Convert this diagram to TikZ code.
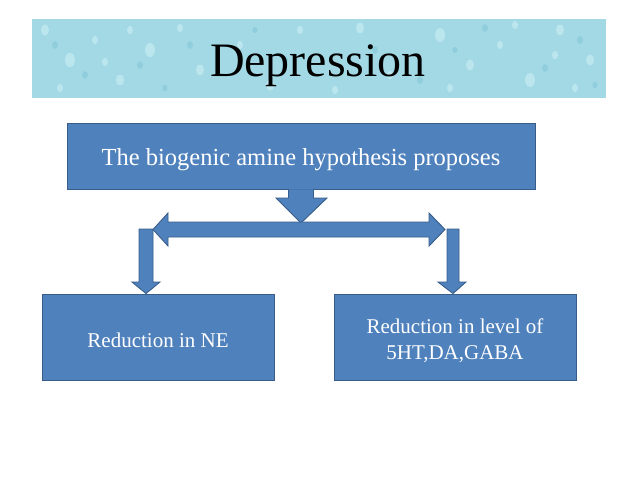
\documentclass[tikz,border=0pt]{standalone}
\usepackage{fontspec}
\setmainfont{Liberation Serif}
\definecolor{boxblue}{HTML}{4F81BD}
\definecolor{boxedge}{HTML}{385D8A}
\definecolor{banner}{HTML}{A2D9E5}
\definecolor{drop}{HTML}{C8ECF3}
\definecolor{dropdark}{HTML}{86C8D8}
\begin{document}
\begin{tikzpicture}[x=1pt,y=-1pt,
  bluebox/.style={draw=boxedge, fill=boxblue, line width=0.9pt, inner sep=0pt},
  boxtext/.style={text=white, align=center, inner sep=0pt},
  blockarrow/.style={draw=boxedge, fill=boxblue, line width=0.9pt, line join=miter}]
\useasboundingbox (0,0) rectangle (638,479);
\fill[white] (0,0) rectangle (638,479);
% banner
\fill[banner] (32,19) rectangle (606,98);
\foreach \x/\y/\r in {45/30/4,70/60/5,95/40/3,120/80/4,150/50/5,180/28/3,200/70/4,240/45/3,270/85/4,300/30/3,335/90/3,360/28/4,390/75/3,440/35/5,470/65/4,500/45/3,530/80/5,560/30/4,590/60/4,60/88/3,130/30/3,450/88/3,515/25/3,575/88/3,105/62/3,555/55/3}
  \fill[drop, opacity=0.7] (\x,\y) ellipse ({\r} and {1.4*\r});
\foreach \x/\y/\r in {55/45/3,85/75/3,140/65/3,165/88/2.5,190/45/3,255/30/2.5,285/60/3,375/50/3,420/80/3,455/50/2.5,485/28/3,545/68/3,580/40/3,595/85/2.5}
  \fill[dropdark, opacity=0.6] (\x,\y) ellipse ({\r} and {1.3*\r});
\node[font=\fontsize{48}{56}\selectfont, text=black, inner sep=0pt] (title) at (318,66) {Depression};
% boxes
\node[bluebox, minimum width=468pt, minimum height=66pt] (top) at (301,156) {};
\node[boxtext, font=\fontsize{24.5}{29}\selectfont] (toptext) at ([yshift=-3.5pt]top.center) {The biogenic amine hypothesis proposes};
\node[bluebox, minimum width=232pt, minimum height=86pt] (left) at (158,337) {};
\node[boxtext, font=\fontsize{21}{26}\selectfont] (lefttext) at ([yshift=-3pt]left.center) {Reduction in NE};
\node[bluebox, minimum width=242pt, minimum height=86pt] (right) at (455,337) {};
\node[boxtext, font=\fontsize{21}{26}\selectfont] (righttext) at ([yshift=-4pt]right.center) {Reduction in level of\\5HT,DA,GABA};
% down arrow from top box
\coordinate (split) at (301,223);
\draw[blockarrow] ([xshift=-12.5pt]top.south) -- ([xshift=-12.5pt]top.south |- 0,198) -- (276,198) -- (split) -- (327,198) -- ([xshift=12.5pt]top.south |- 0,198) -- ([xshift=12.5pt]top.south) ;
% vertical arrows to lower boxes
\draw[blockarrow] (139,229) -- (139,282) -- (132,282) -- (left.north -| 146,0) -- (160,282) -- (153,282) -- (153,229) -- cycle;
\draw[blockarrow] (447,229) -- (447,282) -- (438,282) -- (right.north -| 453,0) -- (466,282) -- (459,282) -- (459,229) -- cycle;
% horizontal double arrow
\coordinate (ltip) at (153,229.5);
\coordinate (rtip) at (445,229.5);
\draw[blockarrow] (ltip) -- (168,213) -- (168,222) -- (429,222) -- (429,213) -- (rtip) -- (429,246) -- (429,237) -- (168,237) -- (168,246) -- cycle;
\end{tikzpicture}
\end{document}
